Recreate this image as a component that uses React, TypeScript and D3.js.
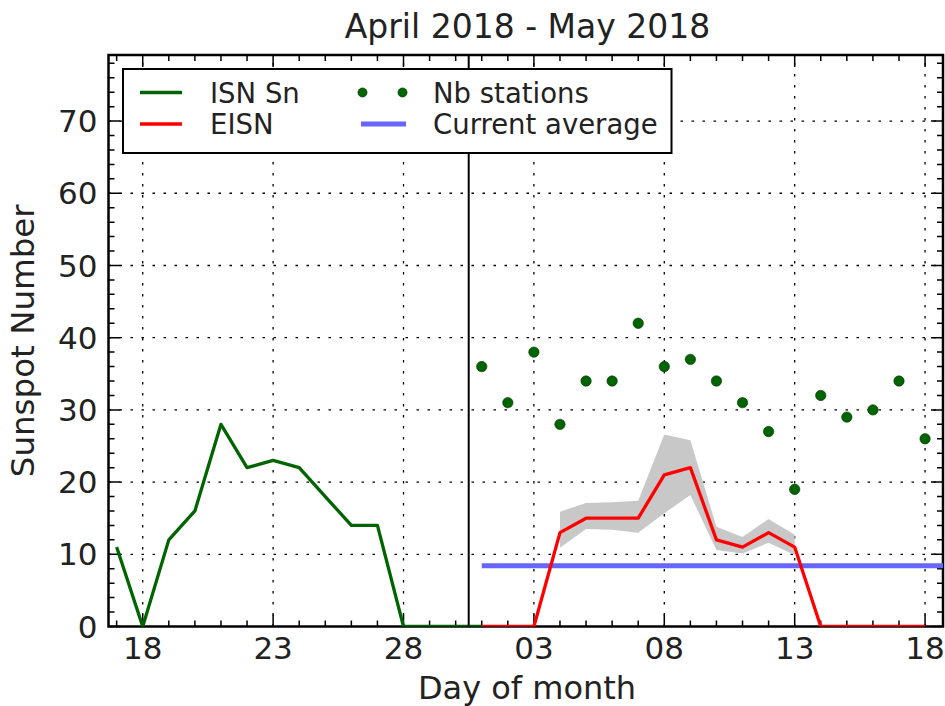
import * as d3 from "d3";
import React, { useRef, useEffect } from "react";

const width = 945;
const height = 706;
const margin = { top: 55, right: 2, bottom: 79.5, left: 108.5 };

// ISN Sn, daily values
const isnDates = [
  "2018-04-17", "2018-04-18", "2018-04-19", "2018-04-20", "2018-04-21",
  "2018-04-22", "2018-04-23", "2018-04-24", "2018-04-25", "2018-04-26",
  "2018-04-27", "2018-04-28", "2018-04-29", "2018-04-30", "2018-05-01",
];
const isnValues = [11, 0, 12, 16, 28, 22, 23, 22, 18, 14, 14, 0, 0, 0, 0];

// EISN and number of stations, current month
const eisnDates = [
  "2018-05-01", "2018-05-02", "2018-05-03", "2018-05-04", "2018-05-05",
  "2018-05-06", "2018-05-07", "2018-05-08", "2018-05-09", "2018-05-10",
  "2018-05-11", "2018-05-12", "2018-05-13", "2018-05-14", "2018-05-15",
  "2018-05-16", "2018-05-17", "2018-05-18",
];
const eisnValues = [0, 0, 0, 13, 15, 15, 15, 21, 22, 12, 11, 13, 11, 0, 0, 0, 0, 0];
const stationValues = [36, 31, 38, 28, 34, 34, 42, 36, 37, 34, 31, 27, 19, 32, 29, 30, 34, 26];

// error band around EISN
const bandDates = [
  "2018-05-04", "2018-05-05", "2018-05-06", "2018-05-07", "2018-05-08",
  "2018-05-09", "2018-05-10", "2018-05-11", "2018-05-12", "2018-05-13",
];
const bandLow = [10.9, 13.5, 13.4, 13.0, 15.7, 18.2, 10.6, 10.1, 11.6, 9.9];
const bandHigh = [15.9, 17.1, 17.2, 17.4, 26.6, 25.8, 13.8, 12.4, 14.9, 12.7];

const averageValue = 8.4;
const averageRange = ["2018-05-01", "2018-05-20"];

const monthSplit = "2018-04-30T12:00:00Z";
const xDomain = ["2018-04-16T16:30:00Z", "2018-05-18T16:30:00Z"];
const xTickDates = ["2018-04-18", "2018-04-23", "2018-04-28", "2018-05-03", "2018-05-08", "2018-05-13", "2018-05-18"];
const yTicks = [0, 10, 20, 30, 40, 50, 60, 70];
const yMax = 79.15;

const legendItems = [
  { label: "ISN Sn", kind: "line", color: "#006400", col: 0, row: 0 },
  { label: "EISN", kind: "line", color: "#ff0000", col: 0, row: 1 },
  { label: "Nb stations", kind: "dots", color: "#006400", col: 1, row: 0 },
  { label: "Current average", kind: "avg", color: "#6666ff", col: 1, row: 1 },
];

const font = "DejaVu Sans";
const parse = (s: string) => new Date(s.length === 10 ? s + "T00:00:00Z" : s);

function App() {
  const ref = useRef<SVGSVGElement>(null);
  const innerWidth = width - margin.left - margin.right;
  const innerHeight = height - margin.top - margin.bottom;

  useEffect(() => {
    const svg = d3.select(ref.current);
    svg.selectAll("*").remove();

    const x = d3.scaleUtc().domain(xDomain.map(parse)).range([margin.left, margin.left + innerWidth]);
    const y = d3.scaleLinear().domain([0, yMax]).range([margin.top + innerHeight, margin.top]);
    const x0 = margin.left, x1 = margin.left + innerWidth;
    const y0 = margin.top + innerHeight, y1 = margin.top;

    svg.append("defs").append("clipPath").attr("id", "plot-clip")
      .append("rect").attr("x", x0).attr("y", y1).attr("width", innerWidth).attr("height", innerHeight);

    // grid
    const grid = svg.append("g").attr("stroke", "#000").attr("stroke-width", 1.3).attr("stroke-dasharray", "2.5,8.5");
    grid.selectAll(".gx").data(xTickDates.map(parse)).join("line").classed("gx", true)
      .attr("x1", (d) => x(d)).attr("x2", (d) => x(d)).attr("y1", y0).attr("y2", y1);
    grid.selectAll(".gy").data(yTicks.filter((t) => t > 0)).join("line").classed("gy", true)
      .attr("x1", x0).attr("x2", x1).attr("y1", (d) => y(d)).attr("y2", (d) => y(d));

    // ticks on all four sides
    const minorX = d3.utcDay.range(parse("2018-04-17"), parse("2018-05-19"));
    const minorY = d3.range(0, yMax, 2);
    const majorXSet = new Set(xTickDates.map((d) => +parse(d)));
    const ticks = svg.append("g").attr("stroke", "#000").attr("stroke-width", 1.5);
    ticks.selectAll(".tx").data(minorX).join("path").classed("tx", true)
      .attr("d", (d) => {
        const len = majorXSet.has(+d) ? 12 : 6;
        const px = x(d);
        return `M${px},${y0}v${-len}M${px},${y1}v${len}`;
      });
    ticks.selectAll(".ty").data(minorY).join("path").classed("ty", true)
      .attr("d", (d) => {
        const len = d % 10 === 0 ? 12 : 6;
        const py = y(d);
        return `M${x0},${py}h${len}M${x1},${py}h${-len}`;
      });

    // frame
    svg.append("rect").attr("x", x0).attr("y", y1).attr("width", innerWidth).attr("height", innerHeight)
      .attr("fill", "none").attr("stroke", "#000").attr("stroke-width", 2.5);

    const plot = svg.append("g").attr("clip-path", "url(#plot-clip)");

    // error band
    const band = bandDates.map((d, i) => ({ date: parse(d), lo: bandLow[i], hi: bandHigh[i] }));
    plot.append("path").datum(band)
      .attr("fill", "#c8c8c8")
      .attr("d", d3.area<any>().x((d) => x(d.date)).y0((d) => y(d.lo)).y1((d) => y(d.hi)));

    // ISN line
    const isn = isnDates.map((d, i) => ({ date: parse(d), v: isnValues[i] }));
    plot.append("path").datum(isn)
      .attr("fill", "none").attr("stroke", "#006400").attr("stroke-width", 3.3).attr("stroke-linejoin", "round")
      .attr("d", d3.line<any>().x((d) => x(d.date)).y((d) => y(d.v)));

    // current average
    plot.append("line")
      .attr("x1", x(parse(averageRange[0]))).attr("x2", x(parse(averageRange[1])))
      .attr("y1", y(averageValue)).attr("y2", y(averageValue))
      .attr("stroke", "#6666ff").attr("stroke-width", 5);

    // EISN line
    const eisn = eisnDates.map((d, i) => ({ date: parse(d), v: eisnValues[i], n: stationValues[i] }));
    plot.append("path").datum(eisn)
      .attr("fill", "none").attr("stroke", "#ff0000").attr("stroke-width", 3.3).attr("stroke-linejoin", "round")
      .attr("d", d3.line<any>().x((d) => x(d.date)).y((d) => y(d.v)));

    // stations
    plot.selectAll(".dot").data(eisn).join("circle").classed("dot", true)
      .attr("cx", (d) => x(d.date)).attr("cy", (d) => y(d.n)).attr("r", 5.2)
      .attr("fill", "#006400").attr("stroke", "#003300").attr("stroke-width", 0.6);

    // month boundary
    svg.append("line")
      .attr("x1", x(parse(monthSplit))).attr("x2", x(parse(monthSplit)))
      .attr("y1", y0).attr("y2", y1).attr("stroke", "#000").attr("stroke-width", 2);

    // tick labels
    const fmt = d3.utcFormat("%d");
    svg.selectAll(".xl").data(xTickDates.map(parse)).join("text").classed("xl", true)
      .attr("x", (d) => x(d)).attr("y", y0 + 32.5)
      .attr("text-anchor", "middle").attr("font-family", font).attr("font-size", 31).attr("fill", "#222")
      .text((d) => fmt(d));
    svg.selectAll(".yl").data(yTicks).join("text").classed("yl", true)
      .attr("x", x0 - 11).attr("y", (d) => y(d)).attr("dy", "0.36em")
      .attr("text-anchor", "end").attr("font-family", font).attr("font-size", 31).attr("fill", "#222")
      .text((d) => d);

    // titles
    svg.append("text").attr("x", 527.5).attr("y", 38).attr("text-anchor", "middle")
      .attr("font-family", font).attr("font-size", 33).attr("fill", "#222").text("April 2018 - May 2018");
    svg.append("text").attr("x", 527).attr("y", 699).attr("text-anchor", "middle")
      .attr("font-family", font).attr("font-size", 32).attr("fill", "#222").text("Day of month");
    svg.append("text").attr("transform", `translate(34, ${(y0 + y1) / 2}) rotate(-90)`)
      .attr("text-anchor", "middle")
      .attr("font-family", font).attr("font-size", 32.5).attr("fill", "#222").text("Sunspot Number");

    // legend
    const legend = svg.append("g");
    legend.append("rect").attr("x", 123).attr("y", 69).attr("width", 548.5).attr("height", 84)
      .attr("fill", "#fff").attr("stroke", "#000").attr("stroke-width", 2);
    const colX = [140, 361];
    const rowY = [92.5, 124];
    legendItems.forEach((item) => {
      const lx = colX[item.col];
      const ly = rowY[item.row];
      if (item.kind === "line") {
        legend.append("line").attr("x1", lx).attr("x2", lx + 42).attr("y1", ly).attr("y2", ly)
          .attr("stroke", item.color).attr("stroke-width", 3.3);
      } else if (item.kind === "avg") {
        legend.append("line").attr("x1", lx).attr("x2", lx + 45).attr("y1", ly).attr("y2", ly)
          .attr("stroke", item.color).attr("stroke-width", 5);
      } else {
        [lx + 1.5, lx + 41.5].forEach((cx) =>
          legend.append("circle").attr("cx", cx).attr("cy", ly).attr("r", 4.6)
            .attr("fill", item.color).attr("stroke", "#003300").attr("stroke-width", 0.6)
        );
      }
      legend.append("text").attr("x", item.col === 0 ? 210 : 433).attr("y", ly + 10)
        .attr("font-family", font).attr("font-size", 27.5).attr("fill", "#222").text(item.label);
    });
  }, []); // eslint-disable-line react-hooks/exhaustive-deps

  return (
    <svg ref={ref} width={width} height={height}
      style={{ position: "absolute", left: 0, top: 0, background: "#fff" }} />
  );
}

export default App;
